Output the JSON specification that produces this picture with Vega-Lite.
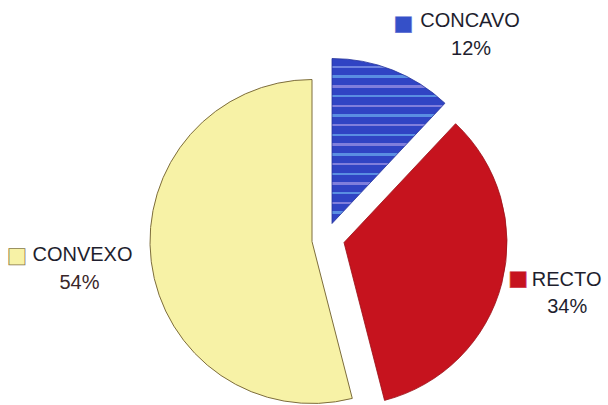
{
  "$schema": "https://vega.github.io/schema/vega-lite/v6.json",
  "width": 608,
  "height": 405,
  "autosize": {"type": "fit", "contains": "padding"},
  "padding": 0,
  "background": "white",
  "view": {"stroke": null},
  "data": {"values": [
    {"category": "CONCAVO", "pct": 0.12, "order": 1},
    {"category": "RECTO", "pct": 0.34, "order": 2},
    {"category": "CONVEXO", "pct": 0.54, "order": 3}
  ]},
  "transform": [
    {"stack": "pct", "groupby": [], "sort": [{"field": "order", "order": "ascending"}], "as": ["t0", "t1"]},
    {"calculate": "(datum.t0 + datum.t1) / 2", "as": "mid"}
  ],
  "layer": [
    {
      "transform": [{"filter": "datum.category === 'CONVEXO'"}],
      "mark": {"type": "arc", "radius": 162, "xOffset": 8, "yOffset": 40, "fill": "#f7f2a6", "stroke": "#7d6d3c", "strokeWidth": 1},
      "encoding": {
        "theta": {"field": "t0", "type": "quantitative", "scale": {"domain": [0, 1]}},
        "theta2": {"field": "t1"}
      }
    },
    {
      "transform": [{"filter": "datum.category === 'RECTO'"}],
      "mark": {"type": "arc", "radius": 163, "xOffset": 40, "yOffset": 41, "fill": "#c6131e", "stroke": "#9a1018", "strokeWidth": 0.8},
      "encoding": {
        "theta": {"field": "t0", "type": "quantitative", "scale": {"domain": [0, 1]}},
        "theta2": {"field": "t1"}
      }
    },
    {
      "transform": [{"filter": "datum.category === 'CONCAVO'"}],
      "mark": {"type": "arc", "radius": 165, "xOffset": 28, "yOffset": 22, "stroke": "#26349a", "strokeWidth": 0.8,
        "fill": {"gradient": "linear", "x1": 0, "y1": 0, "x2": 0, "y2": 1, "stops": [
          {"offset": 0.0, "color": "#3044c4"}, {"offset": 0.044, "color": "#3044c4"}, {"offset": 0.044, "color": "#6f84e0"}, {"offset": 0.0588, "color": "#6f84e0"},
          {"offset": 0.0588, "color": "#3044c4"}, {"offset": 0.103, "color": "#3044c4"}, {"offset": 0.103, "color": "#5a8ee2"}, {"offset": 0.1176, "color": "#5a8ee2"},
          {"offset": 0.1176, "color": "#3044c4"}, {"offset": 0.162, "color": "#3044c4"}, {"offset": 0.162, "color": "#7f7edc"}, {"offset": 0.1765, "color": "#7f7edc"},
          {"offset": 0.1765, "color": "#3044c4"}, {"offset": 0.221, "color": "#3044c4"}, {"offset": 0.221, "color": "#5a8ee2"}, {"offset": 0.2353, "color": "#5a8ee2"},
          {"offset": 0.2353, "color": "#3044c4"}, {"offset": 0.279, "color": "#3044c4"}, {"offset": 0.279, "color": "#7f7edc"}, {"offset": 0.2941, "color": "#7f7edc"},
          {"offset": 0.2941, "color": "#3044c4"}, {"offset": 0.338, "color": "#3044c4"}, {"offset": 0.338, "color": "#5a8ee2"}, {"offset": 0.3529, "color": "#5a8ee2"},
          {"offset": 0.3529, "color": "#3044c4"}, {"offset": 0.397, "color": "#3044c4"}, {"offset": 0.397, "color": "#7f7edc"}, {"offset": 0.4118, "color": "#7f7edc"},
          {"offset": 0.4118, "color": "#3044c4"}, {"offset": 0.456, "color": "#3044c4"}, {"offset": 0.456, "color": "#5a8ee2"}, {"offset": 0.4706, "color": "#5a8ee2"},
          {"offset": 0.4706, "color": "#3044c4"}, {"offset": 0.515, "color": "#3044c4"}, {"offset": 0.515, "color": "#7f7edc"}, {"offset": 0.5294, "color": "#7f7edc"},
          {"offset": 0.5294, "color": "#3044c4"}, {"offset": 0.574, "color": "#3044c4"}, {"offset": 0.574, "color": "#5a8ee2"}, {"offset": 0.5882, "color": "#5a8ee2"},
          {"offset": 0.5882, "color": "#3044c4"}, {"offset": 0.632, "color": "#3044c4"}, {"offset": 0.632, "color": "#7f7edc"}, {"offset": 0.6471, "color": "#7f7edc"},
          {"offset": 0.6471, "color": "#3044c4"}, {"offset": 0.691, "color": "#3044c4"}, {"offset": 0.691, "color": "#5a8ee2"}, {"offset": 0.7059, "color": "#5a8ee2"},
          {"offset": 0.7059, "color": "#3044c4"}, {"offset": 0.75, "color": "#3044c4"}, {"offset": 0.75, "color": "#7f7edc"}, {"offset": 0.7647, "color": "#7f7edc"},
          {"offset": 0.7647, "color": "#3044c4"}, {"offset": 0.809, "color": "#3044c4"}, {"offset": 0.809, "color": "#5a8ee2"}, {"offset": 0.8235, "color": "#5a8ee2"},
          {"offset": 0.8235, "color": "#3044c4"}, {"offset": 0.868, "color": "#3044c4"}, {"offset": 0.868, "color": "#7f7edc"}, {"offset": 0.8824, "color": "#7f7edc"},
          {"offset": 0.8824, "color": "#3044c4"}, {"offset": 0.926, "color": "#3044c4"}, {"offset": 0.926, "color": "#5a8ee2"}, {"offset": 0.9412, "color": "#5a8ee2"},
          {"offset": 0.9412, "color": "#3044c4"}, {"offset": 1.0, "color": "#3044c4"}
        ]}
      },
      "encoding": {
        "theta": {"field": "t0", "type": "quantitative", "scale": {"domain": [0, 1]}},
        "theta2": {"field": "t1"}
      }
    },
    {
      "transform": [{"filter": "datum.category === 'CONCAVO'"}],
      "mark": {"type": "text", "radius": 250, "dx": 74, "dy": 58, "align": "center", "baseline": "alphabetic", "font": "Liberation Sans", "fontSize": 20, "fill": "#1e1e2e"},
      "encoding": {"theta": {"field": "mid", "type": "quantitative", "scale": {"domain": [0, 1]}}, "text": {"field": "category"}}
    },
    {
      "transform": [{"filter": "datum.category === 'CONCAVO'"}],
      "mark": {"type": "text", "radius": 250, "dx": 75, "dy": 86, "align": "center", "baseline": "alphabetic", "font": "Liberation Sans", "fontSize": 20, "fill": "#1e1e2e"},
      "encoding": {"theta": {"field": "mid", "type": "quantitative", "scale": {"domain": [0, 1]}}, "text": {"field": "pct", "type": "quantitative", "format": ".0%"}}
    },
    {
      "transform": [{"filter": "datum.category === 'CONCAVO'"}],
      "mark": {"type": "text", "radius": 250, "dx": 7.5, "dy": 55, "align": "center", "baseline": "middle", "font": "DejaVu Sans", "fontSize": 21, "fill": "#3550c8", "stroke": "#6a7ad8", "strokeWidth": 0.6},
      "encoding": {"theta": {"field": "mid", "type": "quantitative", "scale": {"domain": [0, 1]}}, "text": {"value": "■"}}
    },
    {
      "transform": [{"filter": "datum.category === 'RECTO'"}],
      "mark": {"type": "text", "radius": 250, "dx": 20.5, "dy": 22, "align": "center", "baseline": "alphabetic", "font": "Liberation Sans", "fontSize": 20, "fill": "#1e1e2e"},
      "encoding": {"theta": {"field": "mid", "type": "quantitative", "scale": {"domain": [0, 1]}}, "text": {"field": "category"}}
    },
    {
      "transform": [{"filter": "datum.category === 'RECTO'"}],
      "mark": {"type": "text", "radius": 250, "dx": 21, "dy": 49, "align": "center", "baseline": "alphabetic", "font": "Liberation Sans", "fontSize": 20, "fill": "#1e1e2e"},
      "encoding": {"theta": {"field": "mid", "type": "quantitative", "scale": {"domain": [0, 1]}}, "text": {"field": "pct", "type": "quantitative", "format": ".0%"}}
    },
    {
      "transform": [{"filter": "datum.category === 'RECTO'"}],
      "mark": {"type": "text", "radius": 250, "dx": -28, "dy": 15.5, "align": "center", "baseline": "middle", "font": "DejaVu Sans", "fontSize": 21, "fill": "#c6131e", "stroke": "#d04050", "strokeWidth": 0.6},
      "encoding": {"theta": {"field": "mid", "type": "quantitative", "scale": {"domain": [0, 1]}}, "text": {"value": "■"}}
    },
    {
      "transform": [{"filter": "datum.category === 'CONVEXO'"}],
      "mark": {"type": "text", "radius": 250, "dx": 26.5, "dy": 28, "align": "center", "baseline": "alphabetic", "font": "Liberation Sans", "fontSize": 20, "fill": "#1e1e2e"},
      "encoding": {"theta": {"field": "mid", "type": "quantitative", "scale": {"domain": [0, 1]}}, "text": {"field": "category"}}
    },
    {
      "transform": [{"filter": "datum.category === 'CONVEXO'"}],
      "mark": {"type": "text", "radius": 250, "dx": 23.5, "dy": 56, "align": "center", "baseline": "alphabetic", "font": "Liberation Sans", "fontSize": 20, "fill": "#3a2628"},
      "encoding": {"theta": {"field": "mid", "type": "quantitative", "scale": {"domain": [0, 1]}}, "text": {"field": "pct", "type": "quantitative", "format": ".0%"}}
    },
    {
      "transform": [{"filter": "datum.category === 'CONVEXO'"}],
      "mark": {"type": "text", "radius": 250, "dx": -39, "dy": 23, "align": "center", "baseline": "middle", "font": "DejaVu Sans", "fontSize": 21, "fill": "#f7f2a6", "stroke": "#8a7a44", "strokeWidth": 0.8},
      "encoding": {"theta": {"field": "mid", "type": "quantitative", "scale": {"domain": [0, 1]}}, "text": {"value": "■"}}
    }
  ]
}
